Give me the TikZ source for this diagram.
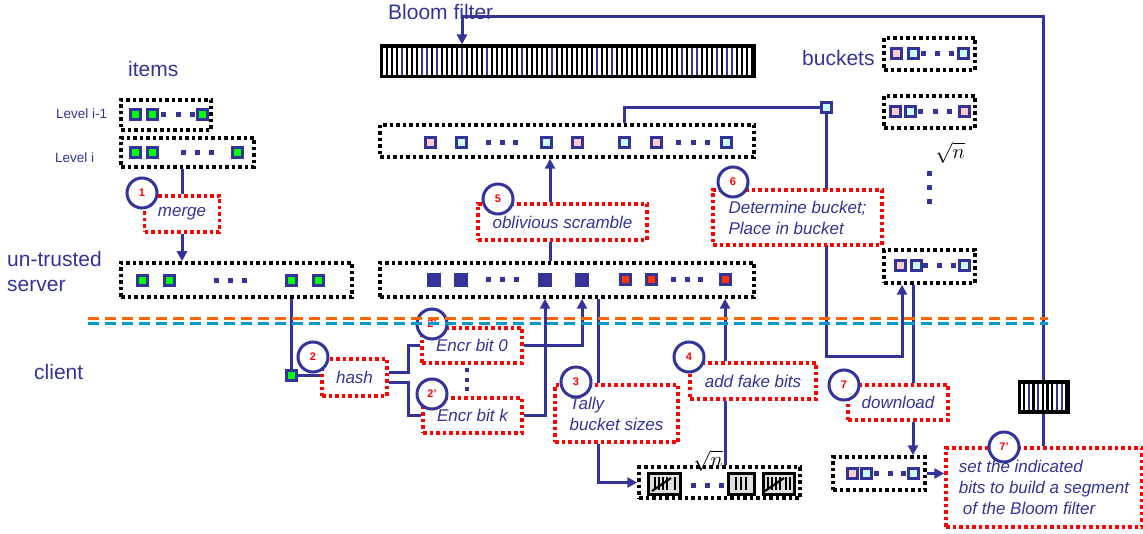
\documentclass[tikz,border=0pt]{standalone}
\usepackage{fontspec}
\setmainfont{Liberation Sans}
\usetikzlibrary{arrows.meta}
\definecolor{navy}{RGB}{51,51,153}
\definecolor{lime}{RGB}{0,255,0}
\definecolor{pinkf}{RGB}{255,204,204}
\definecolor{cyanf}{RGB}{204,255,255}
\definecolor{redf}{RGB}{255,51,0}
\definecolor{dorange}{RGB}{255,102,0}
\definecolor{dblue}{RGB}{0,153,204}
\pgfdeclarelayer{bg}
\pgfsetlayers{bg,main}
\begin{document}
\begin{tikzpicture}[x=1pt,y=-1pt,
  conn/.style={draw=navy,line width=3pt},
  arr/.style={conn,-{Triangle[length=10pt,width=10pt]}},
  bbox/.style={draw=black,line width=3.5pt,dash pattern=on 3.5pt off 3pt,inner sep=0},
  rbox/.style={draw=red,line width=3.5pt,dash pattern=on 3.5pt off 3pt,inner sep=0,fill=white,text=navy,font=\fontsize{17}{21}\selectfont\itshape,align=left},
  sqbase/.style={draw=navy,line width=3pt,minimum size=10pt,inner sep=0},
  sqg/.style={sqbase,fill=lime},
  sqp/.style={sqbase,fill=pinkf},
  sqc/.style={sqbase,fill=cyanf},
  sqr/.style={sqbase,fill=redf},
  sqn/.style={fill=navy,minimum size=14pt,inner sep=0},
  dotsq/.style={fill=navy,minimum size=5pt,inner sep=0},
  num/.style={circle,draw=navy,line width=3pt,fill=white,minimum size=30pt,inner sep=0,text=red,font=\fontsize{11}{13}\selectfont\bfseries},
  lab/.style={text=navy,anchor=base west,inner sep=0,font=\fontsize{21}{25}\selectfont},
  slab/.style={lab,font=\fontsize{13.5}{16}\selectfont},
  tallyb/.style={draw=black,fill=black!12,line width=3pt,minimum width=31pt,minimum height=21pt,inner sep=0},
  tmark/.style={draw=black,line width=2.2pt},
  barb/.style={draw=black,fill=black,line width=3pt,inner sep=0},
  dash1/.style={line width=3pt,dash pattern=on 11pt off 6pt}
]
\useasboundingbox (0,0) rectangle (1143,534);

% ---------- titles / labels
\node[lab] (tBloom) at (388,20) {Bloom filter};
\node[lab] (tItems) at (128,77) {items};
\node[lab] (tBuck) at (802,66) {buckets};
\node[slab] (tL1) at (56,119) {Level i-1};
\node[slab] (tL2) at (55,163) {Level i};
\node[lab] (tUn) at (7,267) {un-trusted};
\node[lab] (tSrv) at (7,292) {server};
\node[lab] (tCl) at (34,380) {client};

% ---------- bloom filter bars
\node[barb,minimum width=373pt,minimum height=31pt] (bf) at (567.5,61.5) {};
\foreach \i in {0,...,73} \fill[white] ({383+5*\i},48) rectangle ++(2.6,27);
\foreach \i in {3,7,8,10,15,20,27,33,42,45,59,61,62,66,68,69} \fill[navy] ({385.6+5*\i},48) rectangle ++(2.4,27);

% ---------- black dotted boxes
\node[bbox,minimum width=90pt,minimum height=30pt] (lv1) at (166,115) {};
\node[bbox,minimum width=133pt,minimum height=29pt] (lvi) at (187.5,152.5) {};
\node[bbox,minimum width=231pt,minimum height=34pt] (srv1) at (236.5,280) {};
\node[bbox,minimum width=374pt,minimum height=34pt] (srv2) at (567,280) {};
\node[bbox,minimum width=374pt,minimum height=32pt] (perm) at (567,141) {};
\node[bbox,minimum width=91pt,minimum height=32pt] (b1) at (929.5,54) {};
\node[bbox,minimum width=91pt,minimum height=32pt] (b2) at (929.5,112) {};
\node[bbox,minimum width=91pt,minimum height=33pt] (b3) at (929.5,266.5) {};
\node[bbox,minimum width=92pt,minimum height=33pt] (sm) at (879,473.5) {};
\node[bbox,minimum width=161pt,minimum height=31pt] (tb) at (719.5,482.5) {};

% ---------- squares
\foreach \x/\s in {135/sqg,152/sqg,202/sqg} \node[\s] (lvas\x) at (\x,115) {};
\foreach \x in {163,178,192} \node[dotsq] (lvad\x) at (\x,115) {};
\foreach \x/\s in {135/sqg,152/sqg,237/sqg} \node[\s] (lvbs\x) at (\x,153) {};
\foreach \x in {183,197,211} \node[dotsq] (lvbd\x) at (\x,153) {};
\foreach \x/\s in {142/sqg,169/sqg,291/sqg,318/sqg} \node[\s] (srv1s\x) at (\x,281) {};
\foreach \x in {216,230,244} \node[dotsq] (srv1d\x) at (\x,281) {};
\foreach \x/\s in {434/sqn,461/sqn,545/sqn,582/sqn,625/sqr,651/sqr,725/sqr} \node[\s] (srv2s\x) at (\x,280) {};
\foreach \x in {488,502,516,673,687,700} \node[dotsq] (srv2d\x) at (\x,280) {};
\foreach \x/\s in {430/sqp,461/sqc,546/sqc,577/sqp,624/sqc,656/sqp,726/sqc} \node[\s] (perms\x) at (\x,143) {};
\foreach \x in {488,502,515,678,693,707} \node[dotsq] (permd\x) at (\x,143) {};
\foreach \x/\s in {896/sqp,913/sqc,963/sqc} \node[\s] (b1s\x) at (\x,54) {};
\foreach \x in {923,937,951} \node[dotsq] (b1d\x) at (\x,54) {};
\foreach \x/\s in {895/sqp,910/sqc,964/sqp} \node[\s] (b2s\x) at (\x,112) {};
\foreach \x in {920,935,949} \node[dotsq] (b2d\x) at (\x,112) {};
\foreach \x/\s in {900/sqp,916/sqc,964/sqc} \node[\s] (b3s\x) at (\x,266) {};
\foreach \x in {925,939,953} \node[dotsq] (b3d\x) at (\x,266) {};
\foreach \x/\s in {852/sqp,866/sqc,913/sqc} \node[\s] (sms\x) at (\x,473) {};
\foreach \x in {876,890,903} \node[dotsq] (smd\x) at (\x,473) {};
\foreach \y in {174,188,202} \node[dotsq,minimum size=5pt] (vd\y) at (929,\y) {};
\foreach \y in {370,380,389} \node[dotsq,minimum size=3.5pt] (ed\y) at (467,\y) {};
\node[sqc] (sb) at (826,108) {};
\node[sqg] (gsq) at (291,376) {};

% sqrt n labels
\node[inner sep=0,font=\fontsize{20}{24}\selectfont] (rt1) at (950,153) {$\sqrt{n}$};
\node[inner sep=0,font=\fontsize{20}{24}\selectfont] (rt2) at (708,461) {$\sqrt{n}$};

% ---------- tally boxes
\node[tallyb,minimum width=32pt] (ta1) at (664,483.5) {};
\node[tallyb,minimum width=26pt] (ta2) at (741,483.5) {};
\node[tallyb,minimum width=31pt] (ta3) at (778.5,483.5) {};
\foreach \x in {655,659,663,667,675} \draw[tmark] (\x,477) -- (\x,490);
\draw[tmark] (652,491) -- (671,478);
\foreach \x in {736,741,746} \draw[tmark] (\x,477) -- (\x,490);
\foreach \x in {768,772,776,780,786,790} \draw[tmark] (\x,477) -- (\x,490);
\draw[tmark] (765,491) -- (784,478);
\foreach \x in {693,707,721} \node[dotsq] (tad\x) at (\x,485) {};

% ---------- red boxes
\node[rbox,minimum width=75pt,minimum height=36pt] (merge) at (182,214) {merge};
\node[rbox,minimum width=65pt,minimum height=37pt] (hash) at (354.5,377.5) {hash};
\node[rbox,minimum width=100pt,minimum height=35pt] (e0) at (472,345.5) {Encr bit 0};
\node[rbox,minimum width=99pt,minimum height=35pt] (ek) at (472.5,415.5) {Encr bit k};
\node[rbox,minimum width=123pt,minimum height=57pt] (tally) at (616.5,413.5) {Tally\\bucket sizes};
\node[rbox,minimum width=126pt,minimum height=36pt] (fake) at (753,381) {add fake bits};
\node[rbox,minimum width=169pt,minimum height=36pt] (scr) at (562.5,222) {oblivious scramble};
\node[rbox,minimum width=169pt,minimum height=55pt] (det) at (797.5,217.5) {Determine bucket;\\Place in bucket};
\node[rbox,minimum width=100pt,minimum height=35pt] (dl) at (898,402.5) {download};
\node[rbox,minimum width=196pt,minimum height=79pt] (setb) at (1044,487.5) {set the indicated\\bits to build a segment\\\hspace*{4pt}of the Bloom filter};

% small bloom bar
\node[barb,minimum width=49pt,minimum height=30pt] (sbar) at (1043.5,397) {};
\foreach \i in {0,...,9} \fill[white] ({1020.5+4.7*\i},384) rectangle ++(2.4,26);
\foreach \i in {1,3,7,8} \fill[navy] ({1022.9+4.7*\i},384) rectangle ++(2.3,26);

% ---------- connectors (behind)
\coordinate (tx) at (598,0);
\coordinate (fx) at (725,0);
\coordinate (sx) at (550,0);
\coordinate (c6) at (826,357);
\coordinate (ux) at (902,0);
\coordinate (dx) at (913,0);
\coordinate (tr) at (1043,17);
\coordinate (tl) at (462,17);
\begin{pgfonlayer}{bg}
\draw[conn] (lvi.south -| merge) -- (merge.north);
\draw[arr] (merge.south) -- (merge.south |- srv1.north);
\draw[conn] (srv1s291 |- srv1.south) -- (gsq.north);
\draw[conn] (gsq.east) -- (hash.west |- gsq);
\draw[conn] ([yshift=5pt]hash.east) -- ++(20,0) |- (e0.west);
\draw[conn] ([yshift=-5pt]hash.east) -- ++(20,0) |- (ek.west);
\draw[arr] (e0.east) -| (srv2s582 |- srv2.south);
\draw[arr] (ek.east) -| (srv2s545 |- srv2.south);
\draw[conn] (tx |- tally.north) -- (tx |- srv2.south);
\draw[arr] (tx |- tally.south) |- (tb.west);
\draw[conn] (fx |- tb.north) -- (fx |- fake.south);
\draw[arr] (fx |- fake.north) -- (fx |- srv2.south);
\draw[conn] (sx |- srv2.north) -- (sx |- scr.south);
\draw[arr] (sx |- scr.north) -- (sx |- perm.south);
\draw[conn] (perms624 |- perm.north) |- (sb.west);
\draw[arr] (sb.south) -- (c6) -| (ux |- b3.south);
\draw[conn] (dx |- b3.south) -- (dx |- dl.north);
\draw[arr] (dx |- dl.south) -- (dx |- sm.north);
\draw[arr] (sm.east) -- (sm.east -| setb.west);
\draw[arr] (tr |- setb.north) -- (tr) -- (tl) -- (tl |- bf.north);
\end{pgfonlayer}

% ---------- step circles
\node[num] (n1) at (142,193) {1};
\node[num] (n2) at (313,357) {2};
\node[num] (n2a) at (432,324) {2'};
\node[num] (n2b) at (432,394) {2'};
\node[num] (n3) at (576,382) {3};
\node[num] (n4) at (689,357) {4};
\node[num] (n5) at (498,199) {5};
\node[num] (n6) at (733,182) {6};
\node[num] (n7) at (844,385) {7};
\node[num] (n7b) at (1004,447) {7'};

% ---------- trust boundary
\coordinate (bl1) at (88,319);
\coordinate (br1) at (1048,319);
\coordinate (bl2) at (88,324);
\coordinate (br2) at (1048,324);
\draw[dash1,dorange] (bl1) -- (br1);
\draw[dash1,dblue] (bl2) -- (br2);
\end{tikzpicture}
\end{document}
